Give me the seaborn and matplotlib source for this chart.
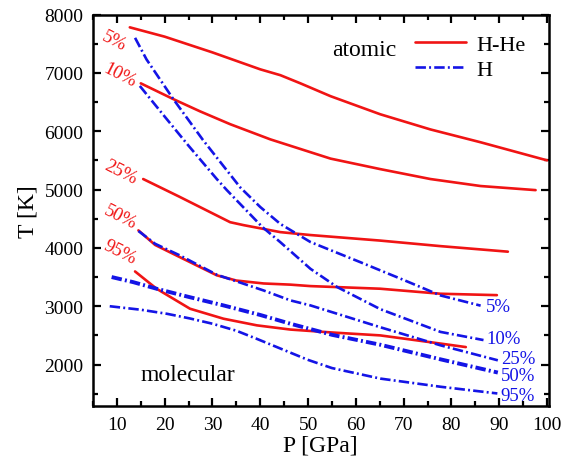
import matplotlib
matplotlib.use("Agg")
import matplotlib.pyplot as plt
import seaborn as sns
import pandas as pd
from matplotlib.lines import Line2D
from matplotlib.ticker import MultipleLocator

sns.set_theme(style="ticks")
plt.rcParams['font.family'] = ['Liberation Serif', 'DejaVu Serif']
for k in ["text.color", "axes.labelcolor", "xtick.color", "ytick.color", "axes.edgecolor"]:
    plt.rcParams[k] = "black"

# ---- data ----
hhe_5_P = [12.7, 20, 30, 40, 44.2, 48.4, 54.7, 65.1, 75.6, 86.1, 100]
hhe_5_T = [7780, 7620, 7350, 7060, 6960, 6820, 6600, 6290, 6030, 5810, 5500]
hhe_10_P = [15.0, 21.8, 27.4, 33.7, 42.1, 50.5, 54.7, 65.1, 75.6, 86.1, 97.6]
hhe_10_T = [6820, 6550, 6340, 6120, 5860, 5640, 5530, 5350, 5180, 5060, 4990]
hhe_25_P = [15.5, 23, 33.7, 36.5, 44.2, 50.5, 65.1, 77.7, 91.8]
hhe_25_T = [5180, 4880, 4440, 4390, 4270, 4220, 4125, 4030, 3935]
hhe_50_P = [14.5, 18, 23.2, 30.9, 35, 40.7, 46.3, 50.5, 65.1, 77.7, 89.5]
hhe_50_T = [4300, 4050, 3840, 3530, 3440, 3390, 3370, 3345, 3300, 3214, 3190]
hhe_95_P = [13.8, 18.3, 25.3, 32.3, 39.3, 46.3, 55, 65.1, 77.7, 83]
hhe_95_T = [3596, 3300, 2957, 2786, 2672, 2600, 2550, 2500, 2360, 2300]

h_5_P = [13.8, 16.2, 21.8, 28, 35.8, 40, 44.2, 50.5, 60.9, 70, 77.7, 86.1]
h_5_T = [7600, 7230, 6550, 5850, 5037, 4700, 4410, 4100, 3756, 3450, 3185, 3010]
h_10_P = [14.8, 20, 25, 30.9, 33, 40.4, 44.2, 50.5, 56.1, 65.1, 77.7, 86.7]
h_10_T = [6775, 6250, 5750, 5180, 4990, 4360, 4097, 3641, 3328, 2950, 2560, 2420]
h_25_P = [14.5, 18, 23.2, 30.9, 40.7, 46.3, 50.5, 65.1, 77.7, 89.7]
h_25_T = [4290, 4070, 3870, 3540, 3270, 3100, 3014, 2640, 2330, 2073]
h_50_P = [8.9, 13.4, 18.3, 25, 32.3, 40, 46.3, 55, 65.1, 77.7, 89.7]
h_50_T = [3500, 3413, 3300, 3160, 3014, 2850, 2700, 2510, 2340, 2090, 1863]
h_95_P = [8.5, 15, 20.5, 25.3, 30, 35, 39.3, 44.2, 50, 55, 65.1, 77.7, 89.6]
h_95_T = [3000, 2940, 2870, 2790, 2700, 2580, 2440, 2275, 2080, 1940, 1760, 1620, 1505]

conc_labels = ["5%", "10%", "25%", "50%", "95%"]
series_names = ["H-He", "H"]

RED = "#f01414"
BLUE = "#1414e6"

rows = []
for name, curves in [("H-He", [(hhe_5_P, hhe_5_T), (hhe_10_P, hhe_10_T), (hhe_25_P, hhe_25_T),
                               (hhe_50_P, hhe_50_T), (hhe_95_P, hhe_95_T)]),
                     ("H", [(h_5_P, h_5_T), (h_10_P, h_10_T), (h_25_P, h_25_T),
                            (h_50_P, h_50_T), (h_95_P, h_95_T)])]:
    for lab, (P, T) in zip(conc_labels, curves):
        for p, t in zip(P, T):
            rows.append({"system": name, "conc": lab, "P": p, "T": t})
df = pd.DataFrame(rows)

fig = plt.figure(figsize=(5.7, 4.6), dpi=100)
ax = fig.add_axes([93 / 570, 1 - 407 / 460, (548.5 - 93) / 570, (407 - 15.5) / 460])


def dd(lw):
    # dash-dot pattern in absolute points
    return (0, (7.5 / lw, 2.3 / lw, 1.4 / lw, 2.3 / lw))


for (name, lab), sub in df.groupby(["system", "conc"], sort=False):
    if name == "H-He":
        sns.lineplot(data=sub, x="P", y="T", ax=ax, color=RED, lw=1.9,
                     sort=False, estimator=None, legend=False)
    else:
        lw = 2.8 if lab == "50%" else 1.9
        sns.lineplot(data=sub, x="P", y="T", ax=ax, color=BLUE, lw=lw,
                     linestyle=dd(lw), sort=False, estimator=None, legend=False)

ax.set_xlim(5, 100.3)
ax.set_ylim(1290, 8000)
ax.xaxis.set_major_locator(MultipleLocator(10))
ax.xaxis.set_minor_locator(MultipleLocator(5))
ax.yaxis.set_major_locator(MultipleLocator(1000))
ax.yaxis.set_minor_locator(MultipleLocator(500))
ax.tick_params(which="both", direction="in", top=True, right=True, width=1.6, colors="black")
ax.tick_params(which="major", length=6, labelsize=14, pad=7)
ax.tick_params(which="minor", length=3.5)
for s in ax.spines.values():
    s.set_linewidth(1.8)
    s.set_color("black")

ax.set_xlabel("P [GPa]", fontsize=17, labelpad=1)
ax.set_ylabel("T [K]", fontsize=17, labelpad=4)

# red labels (rotated)
red_lab_P = [9.4, 10.6, 10.8, 10.6, 10.6]
red_lab_T = [7560, 6960, 5300, 4530, 3930]
for lab, p, t in zip(conc_labels, red_lab_P, red_lab_T):
    ax.text(p, t, lab, color=RED, fontsize=13.5, rotation=-27, ha="center", va="center",
            rotation_mode="anchor")

# blue labels
blue_lab_P = [87.3, 87.3, 90.3, 90.3, 90.3]
blue_lab_T = [2990, 2440, 2100, 1810, 1470]
for lab, p, t in zip(conc_labels, blue_lab_P, blue_lab_T):
    ax.text(p, t, lab, color=BLUE, fontsize=13.5, ha="left", va="center")

ax.text(61.8, 7400, "atomic", fontsize=17, ha="center", va="center")
ax.text(24.9, 1830, "molecular", fontsize=17, ha="center", va="center")

handles = [Line2D([], [], color=RED, lw=1.9),
           Line2D([], [], color=BLUE, lw=1.9, linestyle=dd(1.9))]
ax.legend(handles, series_names, loc="upper right", frameon=False, fontsize=16,
          handlelength=2.3, handletextpad=0.5, labelspacing=0.2,
          bbox_to_anchor=(0.985, 0.99), borderaxespad=0.3)

fig.savefig("out.png", dpi=100)
